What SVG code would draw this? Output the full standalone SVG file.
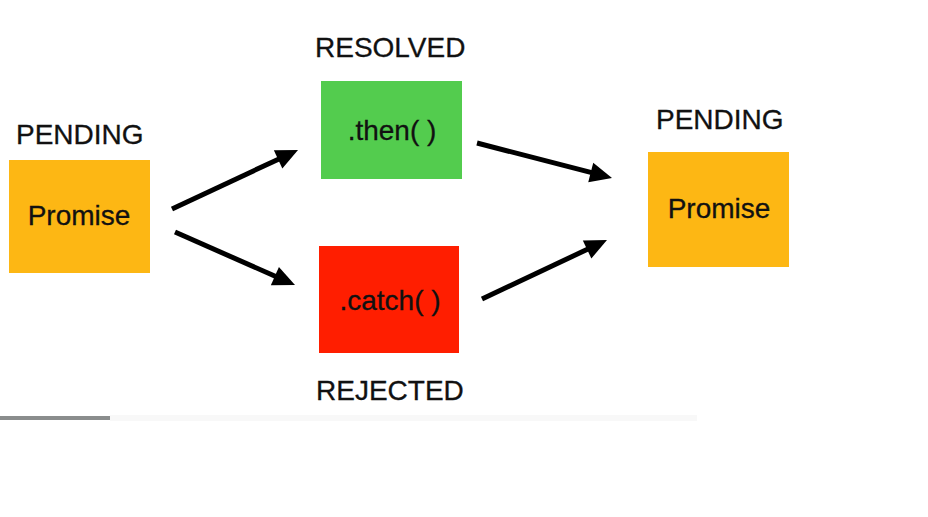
<svg xmlns="http://www.w3.org/2000/svg" width="928" height="517" viewBox="0 0 928 517">
  <style>
    .label { font-family: "Liberation Sans", Arial, sans-serif; font-size: 28px; fill: #111; stroke: #111; stroke-width: 0.3; }
    .inner { font-family: "Liberation Sans", Arial, sans-serif; font-size: 28px; fill: #111; stroke: #111; stroke-width: 0.3; text-anchor: middle; }
    .pending { fill: #FDB714; }
    .resolved { fill: #53CC4E; }
    .rejected { fill: #FF1E00; }
    .arrow { stroke: #000; stroke-width: 5; fill: none; marker-end: url(#head); }
  </style>
  <defs>
    <marker id="head" markerUnits="userSpaceOnUse" markerWidth="24" markerHeight="22" refX="0" refY="0" viewBox="-1 -11 24 22" orient="auto" overflow="visible">
      <path d="M-1,-10 L21,0 L-1,10 z" fill="#000"/>
    </marker>
  </defs>

  <rect width="928" height="517" fill="#fff"/>

  <!-- progress strip along the bottom -->
  <rect x="110" y="415" width="587" height="6" fill="#f8f8f8"/>
  <rect x="0" y="416" width="110" height="4" fill="#8a8d8d"/>

  <g id="promise-start">
    <text class="label" x="16" y="144">PENDING</text>
    <rect class="pending" x="9" y="160" width="141" height="113"/>
    <text class="inner" x="79" y="225">Promise</text>
  </g>

  <g id="then-resolved">
    <text class="label" x="315" y="57">RESOLVED</text>
    <rect class="resolved" x="321" y="81" width="141" height="98"/>
    <text class="inner" x="392" y="140">.then( )</text>
  </g>

  <g id="catch-rejected">
    <rect class="rejected" x="319" y="246" width="140" height="107"/>
    <text class="inner" x="390" y="310">.catch( )</text>
    <text class="label" x="316" y="400">REJECTED</text>
  </g>

  <g id="promise-next">
    <text class="label" x="656" y="129">PENDING</text>
    <rect class="pending" x="648" y="152" width="141" height="115"/>
    <text class="inner" x="719" y="218">Promise</text>
  </g>

  <g id="connectors">
    <line class="arrow" x1="172" y1="209" x2="279" y2="158.9"/>
    <line class="arrow" x1="175" y1="232" x2="275.8" y2="276.5"/>
    <line class="arrow" x1="477" y1="143" x2="591.7" y2="172.7"/>
    <line class="arrow" x1="482" y1="299" x2="588" y2="249"/>
  </g>
</svg>
